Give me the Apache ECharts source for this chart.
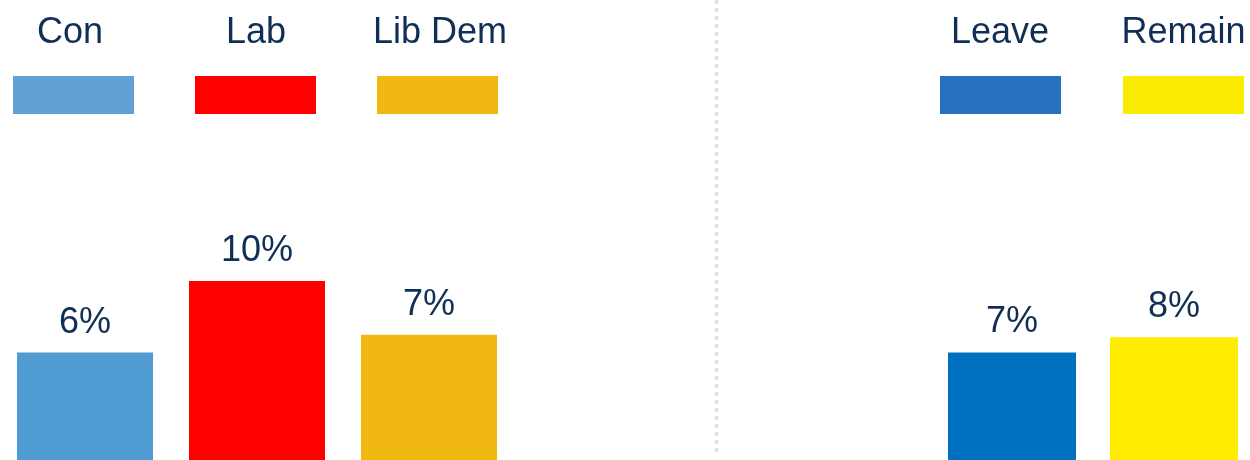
<!DOCTYPE html>
<html>
<head>
<meta charset="utf-8">
<script src="https://cdn.jsdelivr.net/npm/echarts@6/dist/echarts.min.js"></script>
<style>
html,body{margin:0;padding:0;background:#fff;}
#c{width:1250px;height:460px;}
</style>
</head>
<body>
<div id="c"></div>
<script>
// ---- data ----
const partyCats = ['Con', 'Lab', 'Lib Dem'];
const partyValues = [6, 10, 7];
const refCats = ['Leave', 'Remain'];
const refValues = [7, 8];

// ---- styles ----
const partyBarColors = ['#4f9bd2', '#ff0000', '#f2b812'];
const partySwatchColors = ['#62a0d5', '#ff0000', '#f2b812'];
const refBarColors = ['#0070c0', '#ffec00'];
const refSwatchColors = ['#2970c0', '#faec00'];
const textColor = '#112f55';
const FONT = '"Liberation Sans", Arial, sans-serif';

function makeSeries(cats, values, colors, axisIndex, barWidth) {
  return cats.map((name, i) => ({
    name: name,
    type: 'bar',
    xAxisIndex: axisIndex,
    yAxisIndex: axisIndex,
    barWidth: barWidth,
    barGap: '-100%',
    clip: false,
    data: values.map((v, j) => (j === i ? v : '-')),
    itemStyle: { color: colors[i] },
    label: {
      show: true,
      position: 'top',
      distance: 12,
      formatter: '{c}%',
      fontFamily: FONT,
      fontSize: 36,
      color: textColor
    },
    emphasis: { disabled: true },
    animation: false
  }));
}

const series = []
  .concat(makeSeries(partyCats, partyValues, partyBarColors, 0, 136))
  .concat(makeSeries(refCats, refValues, refBarColors, 1, 128));

const nameCentersLeft = [70, 256, 440];
const nameCentersRight = [1000, 1183.5];
const graphics = [];
partyCats.forEach((n, i) => graphics.push({
  type: 'text', x: nameCentersLeft[i], y: 33,
  style: { text: n, font: '36px ' + FONT, fill: textColor, align: 'center', verticalAlign: 'middle' }
}));
refCats.forEach((n, i) => graphics.push({
  type: 'text', x: nameCentersRight[i], y: 33,
  style: { text: n, font: '36px ' + FONT, fill: textColor, align: 'center', verticalAlign: 'middle' }
}));
graphics.push({
  type: 'line',
  shape: { x1: 716.5, y1: 0, x2: 716.5, y2: 456 },
  style: { stroke: '#e0e0e0', lineWidth: 3.5, lineDash: [4, 4] }
});

const chart = echarts.init(document.getElementById('c'), null, { renderer: 'canvas' });
chart.setOption({
  backgroundColor: '#fff',
  animation: false,
  grid: [
    { left: 85, width: 344, top: 102, bottom: 0 },
    { left: 1012, width: 162, top: 153, bottom: 0 }
  ],
  xAxis: [
    { type: 'category', gridIndex: 0, data: partyCats, show: false, boundaryGap: false },
    { type: 'category', gridIndex: 1, data: refCats, show: false, boundaryGap: false }
  ],
  yAxis: [
    { type: 'value', gridIndex: 0, min: 0, max: 20, show: false },
    { type: 'value', gridIndex: 1, min: 0, max: 20, show: false }
  ],
  legend: [
    {
      data: partyCats.map((n, i) => ({ name: n, itemStyle: { color: partySwatchColors[i] } })),
      left: 13, top: 76, padding: 0, itemWidth: 121, itemHeight: 38, itemGap: 61,
      icon: 'rect', selectedMode: false, formatter: () => '', textStyle: { fontSize: 1 }
    },
    {
      data: refCats.map((n, i) => ({ name: n, itemStyle: { color: refSwatchColors[i] } })),
      left: 940, top: 76, padding: 0, itemWidth: 121, itemHeight: 38, itemGap: 62,
      icon: 'rect', selectedMode: false, formatter: () => '', textStyle: { fontSize: 1 }
    }
  ],
  graphic: graphics,
  series: series
});
</script>
</body>
</html>
